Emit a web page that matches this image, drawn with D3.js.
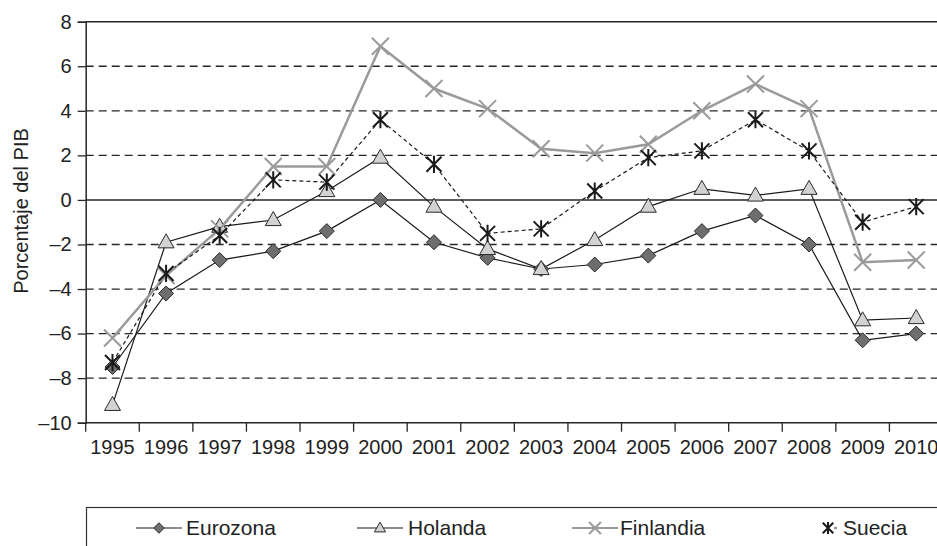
<!DOCTYPE html>
<html><head><meta charset="utf-8">
<script src="https://cdn.jsdelivr.net/npm/d3@7"></script>
<style>
html,body{margin:0;padding:0;background:#fff;overflow:hidden;}
svg{display:block;font-family:"Liberation Sans",Arial,Helvetica,sans-serif;}
</style></head>
<body>
<svg id="chart" width="937" height="546"></svg>
<script>
const years = ["1995","1996","1997","1998","1999","2000","2001","2002","2003","2004","2005","2006","2007","2008","2009","2010"];
const eurozona  = [-7.5,-4.2,-2.7,-2.3,-1.4,0.0,-1.9,-2.6,-3.1,-2.9,-2.5,-1.4,-0.7,-2.0,-6.3,-6.0];
const holanda   = [-9.2,-1.9,-1.2,-0.9,0.4,1.9,-0.3,-2.2,-3.1,-1.8,-0.3,0.5,0.2,0.5,-5.4,-5.3];
const finlandia = [-6.2,-3.4,-1.3,1.5,1.5,6.9,5.0,4.1,2.3,2.1,2.5,4.0,5.2,4.1,-2.8,-2.7];
const suecia    = [-7.3,-3.3,-1.6,0.9,0.8,3.6,1.6,-1.5,-1.3,0.4,1.9,2.2,3.6,2.2,-1.0,-0.3];
const seriesNames = ["Eurozona","Holanda","Finlandia","Suecia"];
const yTicks = [-10,-8,-6,-4,-2,0,2,4,6,8];
const yTitle = "Porcentaje del PIB";

(function () {
const svg = d3.select("#chart");
const pL = 85.7, pR = 943, pT = 21.7, pB = 422.7;
const x = d3.scaleBand().domain(years).range([pL, pR]);
const y = d3.scaleLinear().domain([-10, 8]).range([pB, pT]);
const cx = d => x(d) + x.bandwidth() / 2;
const FS = 20;

// gridlines
const gl = svg.append("g");
yTicks.forEach(t => {
  if (t === -10) return;
  const solid = (t === 0 || t === 8);
  gl.append("line")
    .attr("x1", pL).attr("x2", 937)
    .attr("y1", y(t)).attr("y2", y(t))
    .attr("stroke", "#262626")
    .attr("stroke-width", solid ? 1.5 : 1.3)
    .attr("stroke-dasharray", solid ? null : "8,5");
});

// y axis
const yAxis = d3.axisLeft(y).tickValues(yTicks).tickSize(8).tickPadding(6)
  .tickFormat(d => d < 0 ? "\u2013" + Math.abs(d) : String(d));
const yg = svg.append("g").attr("transform", `translate(${pL},0)`).call(yAxis);
yg.select(".domain").attr("stroke", "#262626").attr("stroke-width", 1.5);
yg.selectAll(".tick line").attr("stroke", "#262626").attr("stroke-width", 1.3);
yg.selectAll(".tick text").attr("font-size", FS).attr("fill", "#222").attr("font-family", "Liberation Sans, Arial, sans-serif");

// x axis: line and boundary ticks
const xg = svg.append("g");
xg.append("line").attr("x1", pL).attr("x2", 937).attr("y1", pB).attr("y2", pB)
  .attr("stroke", "#262626").attr("stroke-width", 1.5);
years.forEach(yr => {
  xg.append("line").attr("x1", x(yr)).attr("x2", x(yr)).attr("y1", pB).attr("y2", pB + 9)
    .attr("stroke", "#262626").attr("stroke-width", 1.3);
  xg.append("text").attr("x", cx(yr)).attr("y", 454).attr("text-anchor", "middle")
    .attr("font-size", FS).attr("fill", "#222").text(yr);
});

// y title
svg.append("text").attr("transform", "translate(28,211) rotate(-90)")
  .attr("text-anchor", "middle").attr("font-size", FS).attr("fill", "#222").text(yTitle);

// lines
const line = d3.line().x((d, i) => cx(years[i])).y(d => y(d));
const styles = {
  Eurozona:  {data: eurozona,  stroke: "#1a1a1a", w: 1.2, dash: null},
  Holanda:   {data: holanda,   stroke: "#1a1a1a", w: 1.2, dash: null},
  Finlandia: {data: finlandia, stroke: "#9a9a9a", w: 2.5, dash: null},
  Suecia:    {data: suecia,    stroke: "#1a1a1a", w: 1.2, dash: "4,3"}
};
seriesNames.forEach(n => {
  const s = styles[n];
  svg.append("path").datum(s.data).attr("d", line).attr("fill", "none")
    .attr("stroke", s.stroke).attr("stroke-width", s.w).attr("stroke-dasharray", s.dash);
});

function marker(g, name, px, py, sc) {
  if (name === "Eurozona") {
    const r = 7.5 * sc;
    g.append("path").attr("d", `M${px},${py - r}L${px + r},${py}L${px},${py + r}L${px - r},${py}Z`)
      .attr("fill", "#6e6e6e").attr("stroke", "#2a2a2a").attr("stroke-width", 1);
  } else if (name === "Holanda") {
    const w = 8 * sc, h = 14 * sc;
    g.append("path").attr("d", `M${px},${py - h * 0.6}L${px + w},${py + h * 0.4}L${px - w},${py + h * 0.4}Z`)
      .attr("fill", "#d2d2d2").attr("stroke", "#2a2a2a").attr("stroke-width", 1);
  } else if (name === "Finlandia") {
    const r = 8.5 * sc;
    g.append("path").attr("d", `M${px - r},${py - r}L${px + r},${py + r}M${px - r},${py + r}L${px + r},${py - r}`)
      .attr("stroke", "#9a9a9a").attr("stroke-width", 2).attr("fill", "none");
  } else {
    const r = 7.5 * sc;
    g.append("path").attr("d", `M${px - r},${py - r}L${px + r},${py + r}M${px - r},${py + r}L${px + r},${py - r}M${px},${py - r * 1.15}L${px},${py + r * 1.15}`)
      .attr("stroke", "#1a1a1a").attr("stroke-width", 2).attr("fill", "none");
  }
}

seriesNames.forEach(n => {
  const g = svg.append("g");
  styles[n].data.forEach((v, i) => marker(g, n, cx(years[i]), y(v), 1));
});

// legend
const lg = svg.append("g");
lg.append("rect").attr("x", 86.5).attr("y", 507.5).attr("width", 900).attr("height", 100)
  .attr("fill", "none").attr("stroke", "#333").attr("stroke-width", 1.2);
const legPos = [
  {n: "Eurozona",  x1: 136, x2: 182, tx: 186},
  {n: "Holanda",   x1: 357, x2: 403, tx: 408},
  {n: "Finlandia", x1: 572, x2: 618, tx: 620},
  {n: "Suecia",    x1: 822, x2: 834, tx: 843}
];
const ly = 528;
legPos.forEach(p => {
  const s = styles[p.n];
  if (p.n === "Suecia") {
    lg.append("line").attr("x1", p.x1 + 12).attr("x2", p.x1 + 15).attr("y1", ly).attr("y2", ly)
      .attr("stroke", "#1a1a1a").attr("stroke-width", 1);
    marker(lg, p.n, p.x1 + 6, ly, 0.7);
  } else {
    lg.append("line").attr("x1", p.x1).attr("x2", p.x2).attr("y1", ly).attr("y2", ly)
      .attr("stroke", s.stroke).attr("stroke-width", p.n === "Finlandia" ? 2 : 1.2);
    marker(lg, p.n, (p.x1 + p.x2) / 2, ly, 0.7);
  }
  lg.append("text").attr("x", p.tx).attr("y", ly).attr("dy", "0.35em")
    .attr("font-size", 21).attr("fill", "#222").text(p.n);
});
})();
</script>
</body></html>
